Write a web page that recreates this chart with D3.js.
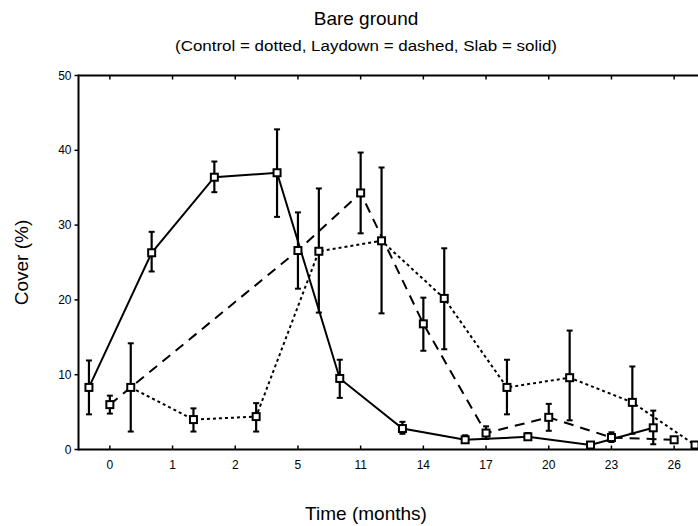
<!DOCTYPE html>
<html>
<head>
  <script src="https://d3js.org/d3.v7.min.js"></script>
  <meta charset="utf-8">
  <title>Bare ground</title>
  <style>
    body { margin: 0; background: #fff; }
    text { font-family: "Liberation Sans", Arial, sans-serif; fill: #000; }
  </style>
</head>
<body>
<script>
  // tick labels (months), one slot per category
  var months = ["0", "1", "2", "5", "11", "14", "17", "20", "23", "26"];

  // Control (dotted), plotted a third to the right of each tick
  var control   = [8.3, 4.0, 4.4, 26.5, 27.9, 20.2, 8.3, 9.6, 6.3, 0.6];
  var controlLo = [2.4, 2.4, 2.4, 18.3, 18.2, 13.4, 4.7, 3.9, 2.1, 0.6];
  var controlHi = [14.2, 5.5, 6.2, 34.9, 37.7, 26.9, 12.0, 15.9, 11.1, 0.6];

  // Laydown (dashed), on the tick; not sampled at months 1 and 2
  var laydown   = [6.0, null, null, 26.6, 34.3, 16.8, 2.2, 4.3, 1.6, 1.3];
  var laydownLo = [4.8, null, null, 21.5, 28.9, 13.2, 1.4, 2.5, 1.0, 1.0];
  var laydownHi = [7.2, null, null, 31.7, 39.7, 20.3, 3.1, 6.1, 2.3, 1.6];

  // Slab (solid), a third to the left of each tick
  var slab   = [8.3, 26.3, 36.4, 37.0, 9.5, 2.8, 1.3, 1.7, 0.6, 2.9];
  var slabLo = [4.7, 23.8, 34.4, 31.1, 6.9, 2.1, 1.0, 1.3, 0.3, 0.7];
  var slabHi = [11.9, 29.1, 38.5, 42.8, 12.0, 3.7, 1.9, 2.2, 0.9, 5.2];

  var yTicks = [0, 10, 20, 30, 40, 50];

  var width = 698, height = 526;
  var plot = { left: 78.5, right: 705.5, top: 75.5, bottom: 449.5 };

  var svg = d3.select("body").append("svg")
      .attr("width", width)
      .attr("height", height);

  var x = d3.scaleLinear().domain([-0.5, 9.5]).range([plot.left, plot.right]);
  var y = d3.scaleLinear().domain([0, 50]).range([plot.bottom, plot.top]);

  // build point lists for each series
  function makeSeries(vals, lo, hi, offset) {
    var out = [];
    vals.forEach(function(v, i) {
      if (v == null) return;
      out.push({ x: i + offset, v: v, lo: lo[i], hi: hi[i] });
    });
    return out;
  }

  var series = [
    { name: "Slab", pts: makeSeries(slab, slabLo, slabHi, -1 / 3), dash: null },
    { name: "Laydown", pts: makeSeries(laydown, laydownLo, laydownHi, 0), dash: "10,7" },
    { name: "Control", pts: makeSeries(control, controlLo, controlHi, 1 / 3), dash: "3,3" }
  ];

  // frame
  svg.append("line")
      .attr("x1", plot.left).attr("x2", plot.right)
      .attr("y1", plot.top).attr("y2", plot.top)
      .style("stroke", "#000").style("stroke-width", 2);
  svg.append("line")
      .attr("x1", plot.left).attr("x2", plot.right)
      .attr("y1", plot.bottom).attr("y2", plot.bottom)
      .style("stroke", "#000").style("stroke-width", 2);
  svg.append("line")
      .attr("x1", plot.left).attr("x2", plot.left)
      .attr("y1", plot.top - 1).attr("y2", plot.bottom + 1)
      .style("stroke", "#000").style("stroke-width", 2);

  // x ticks (top and bottom, inward) and labels
  var cats = d3.range(months.length);
  svg.selectAll(".xtick-b").data(cats).enter().append("line")
      .attr("x1", function(d) { return x(d); }).attr("x2", function(d) { return x(d); })
      .attr("y1", plot.bottom).attr("y2", plot.bottom - 4)
      .style("stroke", "#000").style("stroke-width", 1.5);
  svg.selectAll(".xtick-t").data(cats).enter().append("line")
      .attr("x1", function(d) { return x(d); }).attr("x2", function(d) { return x(d); })
      .attr("y1", plot.top).attr("y2", plot.top + 4)
      .style("stroke", "#000").style("stroke-width", 1.5);
  svg.selectAll(".xlabel").data(cats).enter().append("text")
      .attr("x", function(d) { return x(d); })
      .attr("y", plot.bottom + 19)
      .style("font-size", "12px")
      .style("text-anchor", "middle")
      .text(function(d) { return months[d]; });

  // y ticks (outward) and labels
  svg.selectAll(".ytick").data(yTicks).enter().append("line")
      .attr("x1", plot.left).attr("x2", plot.left - 4)
      .attr("y1", function(d) { return y(d); }).attr("y2", function(d) { return y(d); })
      .style("stroke", "#000").style("stroke-width", 1.5);
  svg.selectAll(".ylabel").data(yTicks).enter().append("text")
      .attr("x", plot.left - 7)
      .attr("y", function(d) { return y(d) + 4; })
      .style("font-size", "12px")
      .style("text-anchor", "end")
      .text(function(d) { return d; });

  // lines
  var line = d3.line()
      .x(function(d) { return x(d.x); })
      .y(function(d) { return y(d.v); });

  series.forEach(function(s) {
    svg.append("path")
        .datum(s.pts)
        .attr("d", line)
        .style("fill", "none")
        .style("stroke", "#000")
        .style("stroke-width", 2)
        .style("stroke-dasharray", s.dash);
  });

  // error bars and markers
  series.forEach(function(s) {
    var g = svg.append("g").attr("class", s.name);
    var bars = s.pts.filter(function(d) { return d.hi > d.lo; });
    g.selectAll(".err").data(bars).enter().append("line")
        .attr("x1", function(d) { return x(d.x); }).attr("x2", function(d) { return x(d.x); })
        .attr("y1", function(d) { return y(d.lo); }).attr("y2", function(d) { return y(d.hi); })
        .style("stroke", "#000").style("stroke-width", 2.2);
    g.selectAll(".caphi").data(bars).enter().append("line")
        .attr("x1", function(d) { return x(d.x) - 3; }).attr("x2", function(d) { return x(d.x) + 3; })
        .attr("y1", function(d) { return y(d.hi); }).attr("y2", function(d) { return y(d.hi); })
        .style("stroke", "#000").style("stroke-width", 2);
    g.selectAll(".caplo").data(bars).enter().append("line")
        .attr("x1", function(d) { return x(d.x) - 3; }).attr("x2", function(d) { return x(d.x) + 3; })
        .attr("y1", function(d) { return y(d.lo); }).attr("y2", function(d) { return y(d.lo); })
        .style("stroke", "#000").style("stroke-width", 2);
    g.selectAll(".mark").data(s.pts).enter().append("rect")
        .attr("x", function(d) { return x(d.x) - 3.5; })
        .attr("y", function(d) { return y(d.v) - 3.5; })
        .attr("width", 7).attr("height", 7)
        .style("fill", "#fff")
        .style("stroke", "#000")
        .style("stroke-width", 2);
  });

  // titles
  svg.append("text")
      .attr("x", 366).attr("y", 25)
      .style("font-size", "19px")
      .style("text-anchor", "middle")
      .text("Bare ground");
  svg.append("text")
      .attr("x", 366).attr("y", 51)
      .style("font-size", "14px")
      .style("text-anchor", "middle")
      .attr("textLength", 382)
      .attr("lengthAdjust", "spacingAndGlyphs")
      .text("(Control = dotted, Laydown = dashed, Slab = solid)");

  svg.append("text")
      .attr("x", 366).attr("y", 520)
      .style("font-size", "19px")
      .style("text-anchor", "middle")
      .text("Time (months)");
  svg.append("text")
      .attr("transform", "translate(28," + ((plot.top + plot.bottom) / 2) + ") rotate(-90)")
      .style("font-size", "19px")
      .style("text-anchor", "middle")
      .text("Cover (%)");
</script>
</body>
</html>
